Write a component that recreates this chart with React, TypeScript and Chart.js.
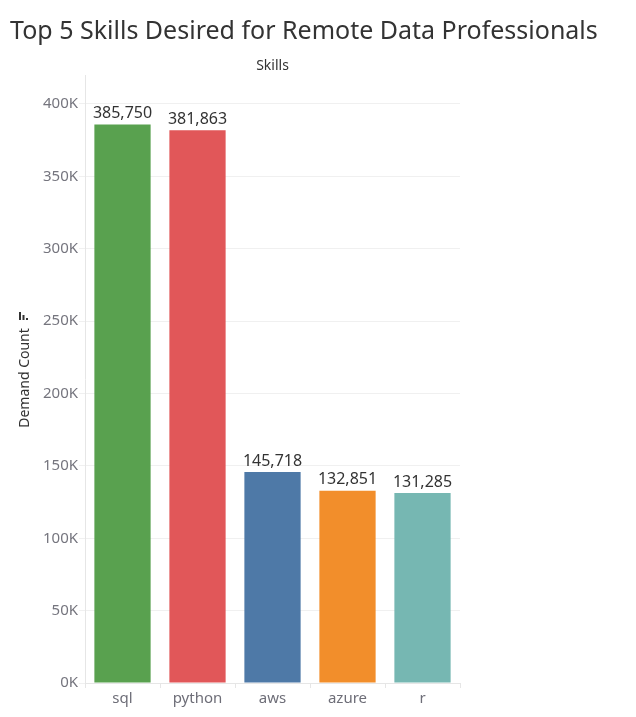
import React, { useEffect, useRef } from "react";
import { Chart, registerables } from "chart.js";

Chart.register(...registerables);

const categories = ["sql", "python", "aws", "azure", "r"];
const demandCounts = [385750, 381863, 145718, 132851, 131285];
const barColors = ["#59A14F", "#E15759", "#4E79A7", "#F28E2B", "#76B7B2"];
const yTickValues = [0, 50000, 100000, 150000, 200000, 250000, 300000, 350000, 400000];
const yMax = 420000;
const chartTitle = "Top 5 Skills Desired for Remote Data Professionals";
const xAxisTitle = "Skills";
const yAxisTitle = "Demand Count";

const FONT = "'Noto Sans', 'Open Sans', sans-serif";

const textPlugin = {
  id: "texts",
  afterDatasetsDraw(chart: any) {
    const ctx = chart.ctx;
    const area = chart.chartArea;
    ctx.save();
    ctx.fillStyle = "#333333";
    ctx.font = `25px ${FONT}`;
    ctx.textAlign = "left";
    ctx.textBaseline = "alphabetic";
    ctx.fillText(chartTitle, 10, 39);
    ctx.font = `14px ${FONT}`;
    ctx.textAlign = "center";
    ctx.textBaseline = "middle";
    ctx.fillText(xAxisTitle, (area.left + area.right) / 2, 66);
    ctx.save();
    ctx.translate(25, 378);
    ctx.rotate(-Math.PI / 2);
    ctx.font = `14px ${FONT}`;
    ctx.textAlign = "center";
    ctx.textBaseline = "middle";
    ctx.fillText(yAxisTitle, 0, 0);
    ctx.restore();
    ctx.fillStyle = "#333333";
    ctx.fillRect(19, 312, 2, 8);
    ctx.fillRect(22.5, 315, 2, 5);
    ctx.fillRect(26, 318, 2, 2);
    const meta = chart.getDatasetMeta(0);
    ctx.font = `16px ${FONT}`;
    ctx.fillStyle = "#333333";
    ctx.textAlign = "center";
    ctx.textBaseline = "bottom";
    meta.data.forEach((bar: any, i: number) => {
      ctx.fillText(demandCounts[i].toLocaleString("en-US"), bar.x, bar.y - 3);
    });
    ctx.restore();
  },
};

export default function App() {
  const ref = useRef<HTMLCanvasElement>(null);
  useEffect(() => {
    if (!ref.current) return;
    const chart = new Chart(ref.current, {
      type: "bar",
      data: {
        labels: categories,
        datasets: [
          {
            data: demandCounts,
            backgroundColor: barColors,
            borderWidth: 0,
            categoryPercentage: 1,
            barPercentage: 0.75,
          },
        ],
      },
      options: {
        animation: false,
        responsive: false,
        maintainAspectRatio: false,
        layout: { padding: { left: 0, right: 176, top: 75, bottom: 0 } },
        plugins: { legend: { display: false }, tooltip: { enabled: false }, title: { display: false } },
        scales: {
          x: {
            grid: { drawOnChartArea: false, drawTicks: true, tickLength: 5, color: "#e6e6e6" },
            border: { color: "#e6e6e6" },
            ticks: { color: "#6e6e78", font: { family: FONT, size: 15 }, padding: 2 },
            afterFit: (s: any) => { s.height = 34; },
          },
          y: {
            min: 0,
            max: yMax,
            grid: { color: "#f0f0f0", tickLength: 6 },
            border: { color: "#e6e6e6" },
            ticks: {
              color: "#75757e",
              font: { family: FONT, size: 15 },
              padding: 1,
              autoSkip: false,
              callback: (v: any) => `${Math.round(Number(v) / 1000)}K`,
            },
            afterBuildTicks: (s: any) => {
              s.ticks = yTickValues.map((v) => ({ value: v }));
            },
            afterFit: (s: any) => { s.width = 85; },
          },
        },
      },
      plugins: [textPlugin],
    });
    return () => chart.destroy();
  }, []);
  return (
    <div style={{ position: "fixed", left: 0, top: 0, width: 636, height: 717, background: "#fff" }}>
      <canvas ref={ref} width={636} height={717} style={{ width: 636, height: 717 }} />
    </div>
  );
}
